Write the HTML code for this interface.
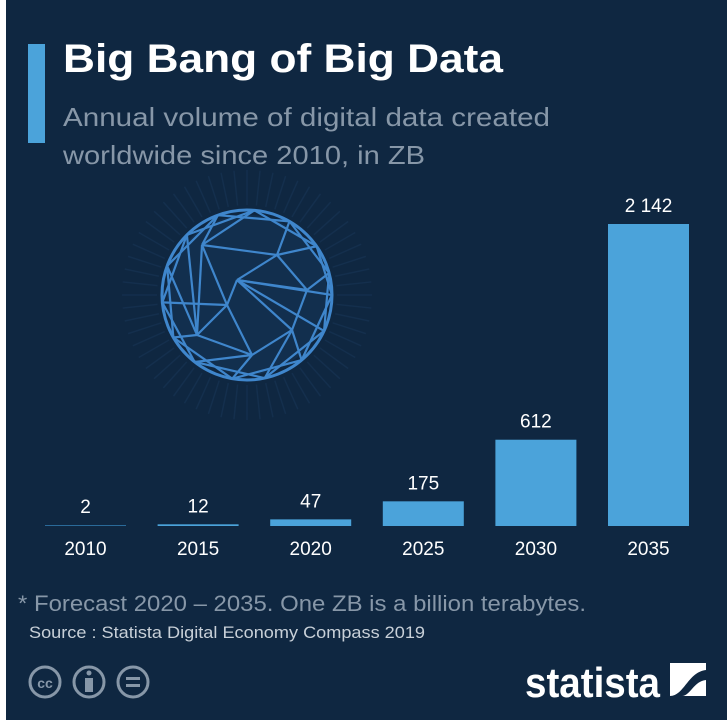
<!DOCTYPE html>
<html><head><meta charset="utf-8"><style>
html,body{margin:0;padding:0;background:#0f2741;}
svg{display:block;font-family:"Liberation Sans",sans-serif;}
</style></head><body>
<svg id="chart" width="727" height="720" viewBox="0 0 727 720" xmlns="http://www.w3.org/2000/svg">
<rect x="0" y="0" width="727" height="720" fill="#0f2741"/>
<rect x="0" y="0" width="6" height="720" fill="#ffffff"/>
<rect x="28" y="44" width="17" height="99" fill="#4ba3da"/>
<text x="63" y="72" font-size="40" font-weight="bold" fill="#ffffff" textLength="440" lengthAdjust="spacingAndGlyphs">Big Bang of Big Data</text>
<text x="63" y="126" font-size="26" fill="#8797a8" textLength="487" lengthAdjust="spacingAndGlyphs">Annual volume of digital data created</text>
<text x="63" y="164" font-size="26" fill="#8797a8" textLength="362" lengthAdjust="spacingAndGlyphs">worldwide since 2010, in ZB</text>
<g id="globe"></g>
<g id="bars"></g>
<text x="18" y="611" font-size="22" fill="#8797a8" textLength="568" lengthAdjust="spacingAndGlyphs">* Forecast 2020 – 2035. One ZB is a billion terabytes.</text>
<text x="29" y="638" font-size="17" fill="#c8d0d8" textLength="396" lengthAdjust="spacingAndGlyphs">Source : Statista Digital Economy Compass 2019</text>
<g fill="none" stroke="#8797a8" stroke-width="3">
<circle cx="45" cy="682" r="15"/><text x="45" y="688" font-size="14" font-weight="bold" fill="#8797a8" stroke="none" text-anchor="middle">cc</text>
<circle cx="89" cy="682" r="15"/><rect x="85" y="678" width="8" height="14" fill="#8797a8" stroke="none"/><circle cx="89" cy="673" r="2.5" fill="#8797a8" stroke="none"/>
<circle cx="133" cy="682" r="15"/><rect x="126" y="677" width="14" height="3" fill="#8797a8" stroke="none"/><rect x="126" y="684" width="14" height="3" fill="#8797a8" stroke="none"/>
</g>
<g>
<text x="525" y="697" font-size="42" font-weight="bold" fill="#ffffff" textLength="135" lengthAdjust="spacingAndGlyphs">statista</text>
<rect x="670" y="663" width="36" height="33" fill="#ffffff"/>
<path d="M670 696 C684 696 688 672 706 670 L706 680 C694 681 690 696 682 696 Z" fill="#0f2741"/>
</g>
</svg>
<script>
const years = ["2010","2015","2020","2025","2030","2035"];
const values = [2, 12, 47, 175, 612, 2142];
const valueLabels = ["2","12","47","175","612","2 142"];

const NS = "http://www.w3.org/2000/svg";
const baseY = 526, plotH = 302, maxV = 2142;
function yScale(v){ return baseY - v / maxV * plotH; }
function xScale(i){ return 45 + i * 112.6; }
const barW = 81;
const bars = document.getElementById('bars');
values.forEach((v, i) => {
  const x = xScale(i), top = Math.min(yScale(v), baseY - 1);
  const r = document.createElementNS(NS, 'rect');
  
  
  r.setAttribute('x', x); r.setAttribute('y', top);
  r.setAttribute('width', barW); r.setAttribute('height', baseY - top);
  r.setAttribute('fill', v < 10 ? '#2a6a99' : '#4ba3da');
  bars.appendChild(r);
  const t = document.createElementNS(NS, 'text');
  
  
  t.setAttribute('x', x + barW / 2); t.setAttribute('y', top - 12);
  t.setAttribute('text-anchor', 'middle'); t.setAttribute('font-size', '19');
  t.setAttribute('fill', '#ffffff');
  t.textContent = valueLabels[i];
  bars.appendChild(t);
  const yl = document.createElementNS(NS, 'text');
  
  
  yl.setAttribute('x', x + barW / 2); yl.setAttribute('y', 555);
  yl.setAttribute('text-anchor', 'middle'); yl.setAttribute('font-size', '19');
  yl.setAttribute('fill', '#ffffff');
  yl.textContent = years[i];
  bars.appendChild(yl);
});

// decorative globe
const g = document.getElementById('globe');
const cx = 247, cy = 295, R = 85;
let s = '';
for (let a = 0; a < 360; a += 6) {
  const rad = a * Math.PI / 180;
  s += `<line x1="${cx + Math.cos(rad) * (R + 5)}" y1="${cy + Math.sin(rad) * (R + 5)}" x2="${cx + Math.cos(rad) * (R + 40)}" y2="${cy + Math.sin(rad) * (R + 40)}" stroke="#142f4d" stroke-width="1.5"/>`;
}
s += `<circle cx="${cx}" cy="${cy}" r="${R - 5}" fill="#16385c" opacity="0.5"/>`;
const pts = [];
const angs = [0, 25, 50, 78, 100, 128, 150, 175, 200, 225, 250, 275, 300, 325, 345];
angs.forEach(a => { const r = a * Math.PI / 180; pts.push([cx + Math.cos(r) * R, cy + Math.sin(r) * R]); });
const inner = [[cx - 10, cy - 15], [cx + 30, cy - 40], [cx - 45, cy - 50], [cx - 50, cy + 40], [cx + 45, cy + 35], [cx + 5, cy + 60], [cx - 20, cy + 10], [cx + 60, cy - 5]];
const all = pts.concat(inner);
const edges = [[15, 0], [15, 1], [15, 22], [16, 13], [16, 12], [16, 22], [17, 10], [17, 11], [17, 21], [18, 8], [18, 9], [18, 21], [19, 3], [19, 2], [19, 20], [20, 5], [20, 4], [15, 21], [15, 16], [16, 17], [17, 18], [18, 20], [19, 22], [20, 21], [22, 14], [15, 19], [21, 7], [18, 6], [0, 2], [2, 4], [4, 6], [6, 8], [8, 10], [10, 12], [12, 14], [14, 1], [1, 3], [3, 5], [5, 7], [7, 9], [9, 11], [11, 13], [13, 0]];
edges.forEach(e => { s += `<line x1="${all[e[0]][0]}" y1="${all[e[0]][1]}" x2="${all[e[1]][0]}" y2="${all[e[1]][1]}" stroke="#3f86cc" stroke-width="2.2"/>`; });
s += `<circle cx="${cx}" cy="${cy}" r="${R}" fill="none" stroke="#3f86cc" stroke-width="3"/>`;
g.innerHTML = s;
</script>
</body></html>
